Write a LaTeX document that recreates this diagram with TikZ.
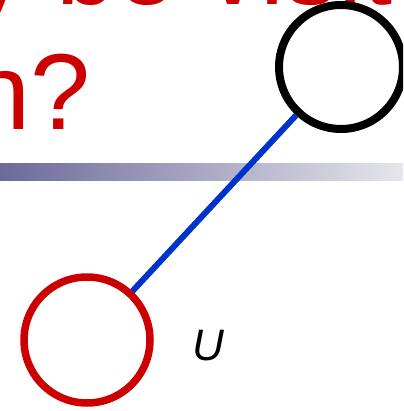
\documentclass[tikz,border=0pt]{standalone}
\usepackage{fontspec}
\setmainfont{Liberation Sans}
\usepackage{xcolor}
\usetikzlibrary{shapes,arrows,positioning,calc}

\definecolor{titlered}{RGB}{204,0,0}
\definecolor{edgeblue}{RGB}{0,51,204}
\definecolor{barleft}{RGB}{108,106,154}
\definecolor{barright}{RGB}{230,230,236}

\begin{document}
\begin{tikzpicture}[x=1pt,y=-1pt,
    vertex/.style={circle,draw,inner sep=0pt,minimum size=124pt,line width=8pt},
    title/.style={anchor=base west,inner sep=0pt,text=titlered,font=\fontsize{108}{130}\selectfont}]
    \useasboundingbox (0,0) rectangle (403,411);
    \clip (0,0) rectangle (403,411);

    % Title
    \node[title] (title1) at (-28,5) {y be visited};
    \node[title] (title2) at (-30,130) {n?};

    % Bar under the title
    \shade[left color=barleft, right color=barright] (0,164) rectangle (403,181);

    % Graph
    \node[vertex,draw=black] (v) at (341,67) {};
    \node[vertex,draw=titlered,line width=7.5pt,minimum size=126pt] (u) at (87,340) {};
    \draw[line width=6pt, edgeblue] (u) -- (v);
    \node[font=\fontsize{44}{48}\selectfont\itshape] (ulabel) at (208,346) {U};
\end{tikzpicture}
\end{document}
